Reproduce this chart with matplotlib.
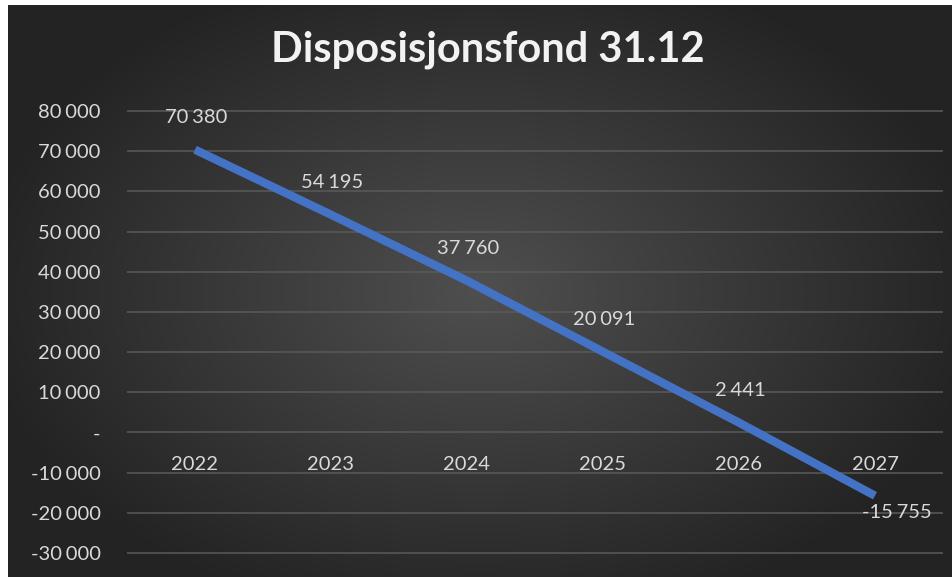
import matplotlib
matplotlib.use("Agg")
from matplotlib import pyplot as plt
import numpy as np

# data
years = ["2022", "2023", "2024", "2025", "2026", "2027"]
values = [70380, 54195, 37760, 20091, 2441, -15755]
y_ticks = [-30000, -20000, -10000, 0, 10000, 20000, 30000, 40000, 50000, 60000, 70000, 80000]

plt.rcParams["font.family"] = ["Lato", "DejaVu Sans"]

W, H = 953, 577
fig = plt.figure(figsize=(W / 100, H / 100), dpi=100)
fig.patch.set_facecolor("white")

# radial gradient background (Excel dark style)
bg = fig.add_axes([8 / W, 0, 1 - 8 / W, 1 - 5 / H])
gx, gy = np.meshgrid(np.linspace(-1, 1, 400), np.linspace(-1, 1, 250))
r = np.sqrt(gx ** 2 + (gy * 0.9) ** 2)
shade = np.clip(0.31 - 0.16 * r, 0.14, 0.31)
img = np.dstack([shade, shade, shade])
bg.imshow(img, aspect="auto", extent=[0, 1, 0, 1], interpolation="bilinear")
bg.set_axis_off()

ax = fig.add_axes([127 / W, (H - 573) / H, (943 - 127) / W, (573 - 91) / H])
ax.set_facecolor("none")
x = np.arange(len(years))
ax.set_xlim(-0.5, len(years) - 0.5)
# 80000 at y=111, -30000 at y=553 -> 40.2 px per 10000
px = 40.18 / 10000
top = 80000 + (111 - 91) / px
bottom = -30000 - (573 - 553) / px
ax.set_ylim(bottom, top)


def fmt(v):
    return f"{v:,}".replace(",", "\u2009\u200a")


ax.set_yticks(y_ticks)
ax.set_yticklabels([("-" if v == 0 else fmt(v)) for v in y_ticks])
ax.grid(axis="y", color="#5a5a5a", linewidth=1.1)
ax.set_axisbelow(True)
ax.tick_params(axis="y", length=0, pad=19, labelcolor="#d9d9d9", labelsize=14.5)
ax.tick_params(axis="x", length=0, labelbottom=False)
for s in ax.spines.values():
    s.set_visible(False)

ax.plot(x, values, color="#4472c4", linewidth=6, solid_capstyle="butt", zorder=3)

# category labels sit next to the zero line
for xi, yr in zip(x, years):
    ax.annotate(yr, (xi, 0), xytext=(0, -23), textcoords="offset points",
                ha="center", va="center", color="#d9d9d9", fontsize=14.5)

for xi, v in zip(x, values):
    if v < 0:
        ax.annotate(fmt(v), (xi, v), xytext=(16, -12), textcoords="offset points",
                    ha="center", va="center", color="#d9d9d9", fontsize=14.5)
    else:
        ax.annotate(fmt(v), (xi, v), xytext=(1, 23), textcoords="offset points",
                    ha="center", va="center", color="#d9d9d9", fontsize=14.5)

fig.text(488 / W, 1 - 50 / H, "Disposisjonsfond 31.12", ha="center", va="center",
         color="#f2f2f2", fontsize=30, fontweight="bold")

fig.savefig("out.png", dpi=100)
